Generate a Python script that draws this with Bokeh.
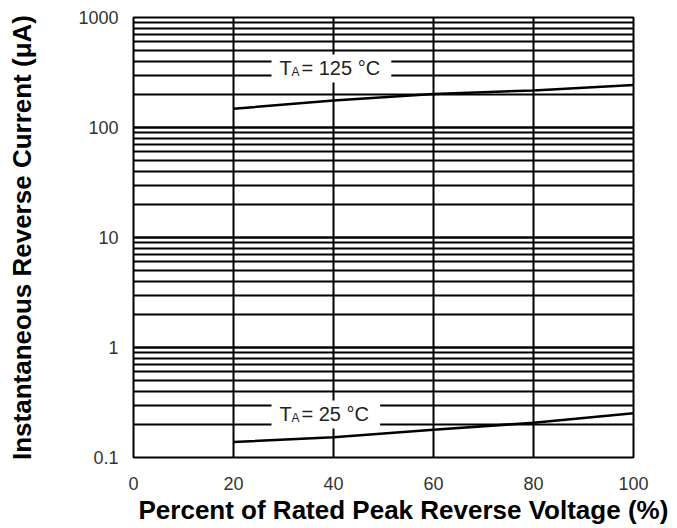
from bokeh.plotting import figure
from bokeh.models import FixedTicker, Label, CustomJSTickFormatter, Title
from bokeh.embed import file_html
from bokeh.resources import INLINE

# ---- data ----
pct_125 = [20, 40, 60, 80, 100]
cur_125 = [148, 176, 202, 217, 244]
pct_25 = [20, 40, 60, 80, 100]
cur_25 = [0.138, 0.153, 0.179, 0.207, 0.253]

x_ticks = [0, 20, 40, 60, 80, 100]
y_major = [0.1, 1, 10, 100, 1000]
y_minor = [m * d for d in [0.1, 1, 10, 100] for m in range(2, 10)]

labels = [("125 \u00b0C", 29.2, 344), ("25 \u00b0C", 29.2, 0.246)]

FONT = "Liberation Sans"

p = figure(width=677, height=528, x_range=(0, 100), y_range=(0.1, 1000),
           y_axis_type="log", output_backend="svg", toolbar_location=None,
           min_border_left=133, min_border_right=44, min_border_top=17,
           min_border_bottom=71)

p.outline_line_color = "black"
p.outline_line_width = 2
p.background_fill_color = "white"

# grids
p.xgrid.ticker = FixedTicker(ticks=x_ticks)
p.xgrid.grid_line_color = "black"
p.xgrid.grid_line_width = 2
p.xgrid.grid_line_alpha = 1
p.ygrid.ticker = FixedTicker(ticks=y_major, minor_ticks=y_minor)
p.ygrid.grid_line_color = "black"
p.ygrid.grid_line_width = 2.5
p.ygrid.grid_line_alpha = 1
p.ygrid.minor_grid_line_color = "black"
p.ygrid.minor_grid_line_width = 1.8

# axes
p.xaxis.ticker = FixedTicker(ticks=x_ticks)
p.yaxis.ticker = FixedTicker(ticks=y_major)
p.yaxis.formatter = CustomJSTickFormatter(code="return tick.toString();")
for ax in (p.xaxis[0], p.yaxis[0]):
    ax.axis_line_color = None
    ax.major_tick_line_color = None
    ax.minor_tick_line_color = None
    ax.major_label_text_font = FONT
    ax.major_label_text_font_size = "18px"
    ax.major_label_text_color = "#333333"
    ax.axis_label_text_font = FONT
    ax.axis_label_text_font_style = "bold"
    ax.axis_label_text_font_size = "26px"
    ax.axis_label_text_color = "black"

p.xaxis.major_label_standoff = 13
p.yaxis.axis_label = "Instantaneous Reverse Current (\u03bcA)"
p.yaxis.major_label_standoff = 9
p.yaxis.axis_label_standoff = 38

xtitle = Title(text="Percent of Rated Peak Reverse Voltage (%)", align="left",
               offset=5, text_font=FONT, text_font_style="bold",
               text_font_size="26px", text_color="black", standoff=0)
p.add_layout(xtitle, "below")

# curves
p.line(pct_125, cur_125, line_color="black", line_width=2.5)
p.line(pct_25, cur_25, line_color="black", line_width=2.5)

# temperature labels: white box + T, subscript A, rest
for rest, lx, ly in labels:
    p.add_layout(Label(x=lx, y=ly, text="TA = " + rest + " ", text_color="white",
                       text_font=FONT, text_font_size="20px", text_baseline="middle",
                       text_align="left", x_offset=-8,
                       background_fill_color="white", background_fill_alpha=1,
                       padding=3))
    p.add_layout(Label(x=lx, y=ly, text="T", text_color="#222222", text_font=FONT,
                       text_font_size="20px", text_baseline="middle", text_align="left"))
    p.add_layout(Label(x=lx, y=ly, text="A", text_color="#222222", text_font=FONT,
                       text_font_size="12px", text_baseline="middle", text_align="left",
                       x_offset=12, y_offset=-4))
    p.add_layout(Label(x=lx, y=ly, text="= " + rest, text_color="#222222", text_font=FONT,
                       text_font_size="20px", text_baseline="middle", text_align="left",
                       x_offset=22))

open("out.html", "w").write(file_html(p, INLINE))
